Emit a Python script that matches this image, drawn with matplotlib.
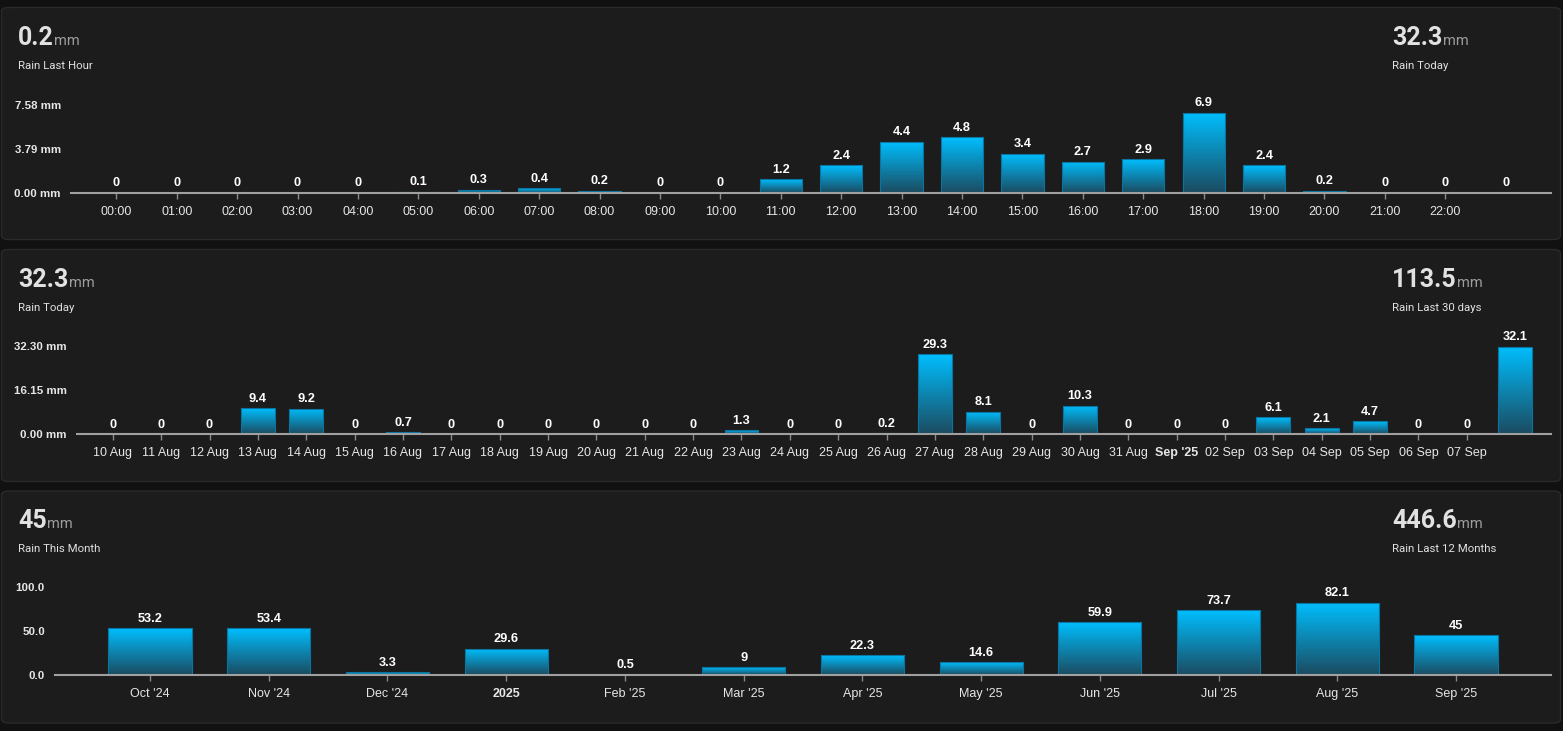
import numpy as np
import matplotlib
matplotlib.use('Agg')
import matplotlib.pyplot as plt
from matplotlib.patches import FancyBboxPatch, Rectangle
from matplotlib.colors import LinearSegmentedColormap
from matplotlib.transforms import ScaledTranslation

W, H = 1563, 731

# hourly rain, today
hour_labels = ['%02d:00' % h for h in range(23)]
hour_rain = [0, 0, 0, 0, 0, 0.1, 0.3, 0.4, 0.2, 0, 0, 1.2,
             2.4, 4.4, 4.8, 3.4, 2.7, 2.9, 6.9, 2.4, 0.2, 0, 0, 0]
hour_ticks = [0, 3.79, 7.58]

# daily rain, last 30 days
day_labels = ['10 Aug', '11 Aug', '12 Aug', '13 Aug', '14 Aug', '15 Aug', '16 Aug',
              '17 Aug', '18 Aug', '19 Aug', '20 Aug', '21 Aug', '22 Aug', '23 Aug',
              '24 Aug', '25 Aug', '26 Aug', '27 Aug', '28 Aug', '29 Aug', '30 Aug',
              '31 Aug', "Sep '25", '02 Sep', '03 Sep', '04 Sep', '05 Sep', '06 Sep',
              '07 Sep']
day_rain = [0, 0, 0, 9.4, 9.2, 0, 0.7, 0, 0, 0, 0, 0, 0, 1.3, 0, 0, 0.2,
            29.3, 8.1, 0, 10.3, 0, 0, 0, 6.1, 2.1, 4.7, 0, 0, 32.1]
day_ticks = [0, 16.15, 32.30]

# monthly rain, last 12 months
month_labels = ["Oct '24", "Nov '24", "Dec '24", '2025', "Feb '25", "Mar '25",
                "Apr '25", "May '25", "Jun '25", "Jul '25", "Aug '25", "Sep '25"]
month_rain = [53.2, 53.4, 3.3, 29.6, 0.5, 9, 22.3, 14.6, 59.9, 73.7, 82.1, 45]
month_ticks = [0, 50, 100]

# header stats
left_values = ['0.2', '32.3', '45']
left_titles = ['Rain Last Hour', 'Rain Today', 'Rain This Month']
right_values = ['32.3', '113.5', '446.6']
right_titles = ['Rain Today', 'Rain Last 30 days', 'Rain Last 12 Months']

BG = '#111111'
CARD = '#1c1c1c'
TXT = '#e6e6e6'
LABEL_FONT = ['Liberation Sans', 'DejaVu Sans']
HEAD_FONT = ['Roboto', 'DejaVu Sans']

rain_cmap = LinearSegmentedColormap.from_list('rain', ['#1b4b60', '#00bfff'])


def fx(px):
    return px / W


def fy(py):
    return 1 - py / H


def draw_header(fig, card_top, value, title, x):
    renderer = fig.canvas.get_renderer()
    t = fig.text(fx(x), fy(card_top + 37.5), value, fontsize=18, color='#e1e1e1',
                 family=HEAD_FONT, fontweight='bold', va='baseline', ha='left')
    bb = t.get_window_extent(renderer=renderer)
    fig.text(bb.x1 / W + fx(0.5), fy(card_top + 37.5), 'mm', fontsize=10.5,
             color='#9e9e9e', family=HEAD_FONT, va='baseline', ha='left')
    fig.text(fx(x), fy(card_top + 61.5), title, fontsize=8.2, color='#e1e1e1',
             family=HEAD_FONT, va='baseline', ha='left')


def draw_bars(fig, left, zero_y, values, labels, ticks, fmt, xlim, bold=()):
    ax = fig.add_axes([fx(left), fy(zero_y), fx(1551 - left), 88 / H])
    ax.set_facecolor('none')
    width = 0.7
    grad = np.linspace(0, 1, 256).reshape(-1, 1)
    lift = ax.transData + ScaledTranslation(0, 6.5 / 100, fig.dpi_scale_trans)
    for i, v in enumerate(values):
        if v > 0:
            rect = Rectangle((i - width / 2, 0), width, v, facecolor='none',
                             edgecolor='#0a75a2', linewidth=0.8, zorder=2)
            ax.add_patch(rect)
            im = ax.imshow(grad, extent=(i - width / 2, i + width / 2, 0, v),
                           origin='lower', aspect='auto', cmap=rain_cmap, zorder=1.5,
                           interpolation='bilinear')
            im.set_clip_path(rect)
        ax.text(i, v, '%g' % v, ha='center', va='baseline', fontsize=9.2,
                fontweight='bold', color='white', family=LABEL_FONT, transform=lift)

    ax.set_xlim(*xlim)
    ax.set_ylim(0, ticks[-1])
    ax.set_xticks(range(len(labels)))
    ax.set_xticklabels(labels)
    ax.set_yticks(ticks)
    ax.set_yticklabels([fmt % t for t in ticks])
    for s in ['left', 'right', 'top']:
        ax.spines[s].set_visible(False)
    ax.spines['bottom'].set_color('#a0a0a0')
    ax.spines['bottom'].set_linewidth(1.5)
    ax.spines['bottom'].set_zorder(3)
    ax.tick_params(axis='x', direction='out', length=4.3, width=1, color='#8a8a8a',
                   pad=4.8, labelsize=9, labelcolor=TXT)
    ax.tick_params(axis='y', length=0, pad=7.2, labelsize=8.25, labelcolor=TXT)
    for lab in ax.get_xticklabels():
        lab.set_family(LABEL_FONT)
        if lab.get_text() in bold:
            lab.set_fontweight('bold')
    for lab in ax.get_yticklabels():
        lab.set_family(LABEL_FONT)
        lab.set_fontweight('bold')
    return ax


fig = plt.figure(figsize=(W / 100, H / 100), dpi=100, facecolor=BG)

card_tops = [7.5, 249.5, 491]
card_h = 232
for top in card_tops:
    fig.patches.append(FancyBboxPatch((fx(1.5), fy(top + card_h)), fx(1559), card_h / H,
                                      boxstyle='round,pad=0,rounding_size=0.005',
                                      transform=fig.transFigure, facecolor=CARD,
                                      edgecolor='#2a2a2a', linewidth=1, zorder=-1))

for i, top in enumerate(card_tops):
    draw_header(fig, top, left_values[i], left_titles[i], 18)
    draw_header(fig, top, right_values[i], right_titles[i], 1392)

draw_bars(fig, 71, 193, hour_rain, hour_labels, hour_ticks, '%.2f mm', (-0.75, 23.75))
draw_bars(fig, 77, 434, day_rain, day_labels, day_ticks, '%.2f mm', (-0.74, 29.74),
          bold=("Sep '25",))
draw_bars(fig, 55, 675, month_rain, month_labels, month_ticks, '%.1f', (-0.8, 11.8),
          bold=('2025',))

fig.savefig('out.png', dpi=100, facecolor=BG)
